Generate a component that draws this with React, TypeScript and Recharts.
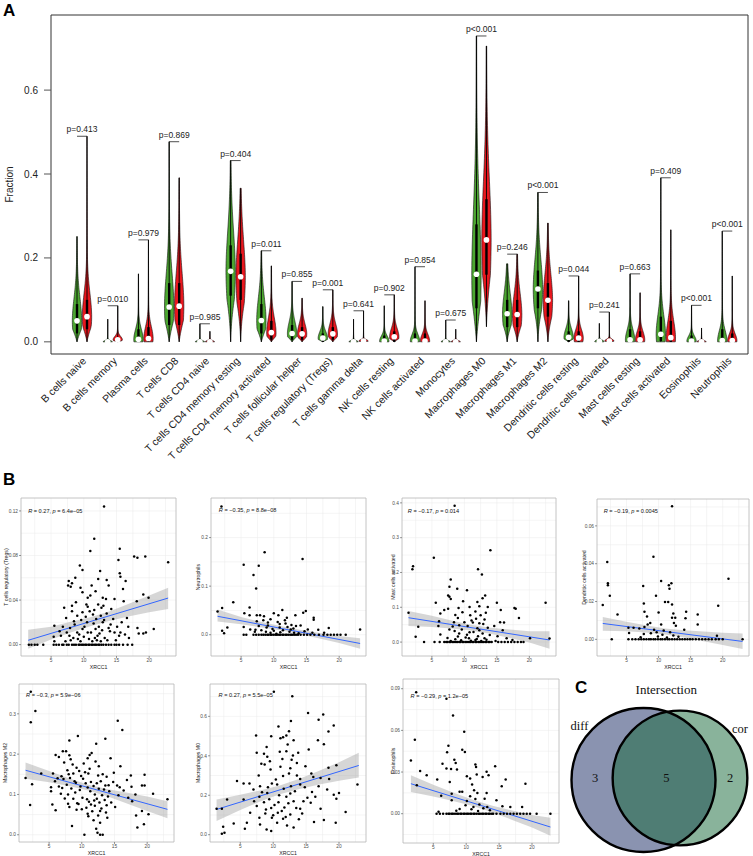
import React from 'react';
import {
  ComposedChart,
  ScatterChart,
  Bar,
  Line,
  Area,
  Scatter,
  XAxis,
  YAxis,
  ZAxis,
  CartesianGrid,
  ReferenceArea,
} from 'recharts';

const SANS = '"Liberation Sans", Arial, Helvetica, sans-serif';
const SERIF = '"Liberation Serif", "Times New Roman", serif';

// ---------- A: immune cell fractions, low (green) vs high (red) ----------
const cellTypes = [
  'B cells naive', 'B cells memory', 'Plasma cells', 'T cells CD8', 'T cells CD4 naive',
  'T cells CD4 memory resting', 'T cells CD4 memory activated', 'T cells follicular helper',
  'T cells regulatory (Tregs)', 'T cells gamma delta', 'NK cells resting', 'NK cells activated',
  'Monocytes', 'Macrophages M0', 'Macrophages M1', 'Macrophages M2', 'Dendritic cells resting',
  'Dendritic cells activated', 'Mast cells resting', 'Mast cells activated', 'Eosinophils', 'Neutrophils',
];
const pLabels = [
  'p=0.413', 'p=0.010', 'p=0.979', 'p=0.869', 'p=0.985', 'p=0.404', 'p=0.011', 'p=0.855',
  'p=0.001', 'p=0.641', 'p=0.902', 'p=0.854', 'p=0.675', 'p<0.001', 'p=0.246', 'p<0.001',
  'p=0.044', 'p=0.241', 'p=0.663', 'p=0.409', 'p<0.001', 'p<0.001',
];
const lowMin = [0, 0, 0, 0, 0, 0, 0, 0, 0, 0, 0, 0, 0, 0, 0, 0, 0, 0, 0, 0, 0, 0];
const lowMax = [0.251, 0.054, 0.162, 0.477, 0.043, 0.432, 0.217, 0.144, 0.084, 0.054, 0.086, 0.179, 0.052, 0.729, 0.186, 0.356, 0.098, 0.044, 0.162, 0.391, 0.087, 0.264];
const lowMed = [0.05, 0, 0.006, 0.083, 0, 0.168, 0.051, 0.02, 0.009, 0, 0.002, 0.002, 0, 0.161, 0.067, 0.126, 0.011, 0.001, 0.005, 0.018, 0.002, 0.003];
const lowQ1 = [0.02, 0, 0, 0.04, 0, 0.11, 0.02, 0.005, 0, 0, 0, 0, 0, 0.08, 0.035, 0.08, 0, 0, 0, 0.002, 0, 0];
const lowQ3 = [0.09, 0.002, 0.03, 0.14, 0.001, 0.23, 0.09, 0.04, 0.02, 0.001, 0.015, 0.02, 0.001, 0.28, 0.1, 0.17, 0.025, 0.004, 0.03, 0.06, 0.015, 0.03];
const highMin = [0, 0, 0, 0, 0, 0, 0, 0, 0, 0, 0, 0, 0, 0.036, 0, 0, 0, 0, 0, 0, 0, 0];
const highMax = [0.49, 0.086, 0.243, 0.391, 0.025, 0.366, 0.181, 0.104, 0.124, 0.074, 0.112, 0.098, 0.03, 0.705, 0.209, 0.283, 0.157, 0.071, 0.117, 0.267, 0.033, 0.157];
const highMed = [0.06, 0.005, 0.008, 0.085, 0, 0.155, 0.022, 0.019, 0.019, 0.002, 0.012, 0.002, 0, 0.243, 0.065, 0.099, 0.009, 0.002, 0.005, 0.01, 0, 0.003];
const highQ1 = [0.03, 0, 0, 0.04, 0, 0.1, 0.005, 0.005, 0.005, 0, 0, 0, 0, 0.16, 0.035, 0.06, 0, 0, 0, 0, 0, 0];
const highQ3 = [0.1, 0.01, 0.035, 0.14, 0.001, 0.21, 0.05, 0.035, 0.035, 0.004, 0.025, 0.02, 0.001, 0.34, 0.1, 0.14, 0.025, 0.005, 0.025, 0.05, 0.002, 0.02];

const violinRows = cellTypes.map((name, i) => ({
  name,
  p: pLabels[i],
  lowMin: lowMin[i], lowMax: lowMax[i], lowMed: lowMed[i], lowQ1: lowQ1[i], lowQ3: lowQ3[i],
  highMin: highMin[i], highMax: highMax[i], highMed: highMed[i], highQ1: highQ1[i], highQ3: highQ3[i],
}));

// ---------- B: XRCC1 correlation scatter plots ----------
const tregsPts = [
  [13.1, 0.124], [11.6, 0.095], [11.0, 0.084], [15.5, 0.086], [17.7, 0.079], [18.2, 0.078], [19.4, 0.079], [22.9, 0.074],
  [15.3, 0.076], [9.4, 0.071], [9.8, 0.067], [12.5, 0.066], [15.5, 0.064], [15.6, 0.061], [8.7, 0.06], [12.2, 0.059],
  [13.5, 0.058], [7.7, 0.057], [16.4, 0.057], [8.2, 0.055], [7.6, 0.053], [8.0, 0.052], [9.5, 0.051], [11.2, 0.053],
  [13.8, 0.053], [16.0, 0.05], [11.8, 0.048], [9.8, 0.047], [11.0, 0.044], [10.6, 0.042], [12.9, 0.042], [13.4, 0.041],
  [14.7, 0.041], [16.1, 0.039], [8.8, 0.038], [10.4, 0.036], [8.2, 0.035], [12.2, 0.036], [10.6, 0.034], [7.0, 0.033],
  [12.7, 0.033], [14.2, 0.032], [19.1, 0.045], [19.9, 0.042], [18.1, 0.039], [8.2, 0.03], [9.8, 0.029], [11.4, 0.027],
  [12.6, 0.026], [13.5, 0.028], [9.0, 0.026], [7.3, 0.024], [11.9, 0.023], [14.5, 0.023], [16.6, 0.024], [8.5, 0.021],
  [10.5, 0.02], [12.9, 0.02], [5.5, 0.017], [6.8, 0.016], [7.9, 0.015], [9.8, 0.014], [11.8, 0.014], [13.8, 0.015],
  [15.1, 0.016], [16.8, 0.016], [18.2, 0.015], [6.3, 0.012], [7.4, 0.011], [9.0, 0.011], [10.6, 0.011], [12.4, 0.01],
  [14.7, 0.011], [15.6, 0.011], [18.4, 0.01], [19.1, 0.01], [19.5, 0.011], [20.7, 0.014], [5.4, 0.007], [6.5, 0.008],
  [8.4, 0.006], [10.0, 0.007], [11.7, 0.006], [13.2, 0.006], [15.4, 0.008], [16.9, 0.006], [5.5, 0.003], [7.2, 0.003],
  [9.5, 0.003], [11.3, 0.003], [12.6, 0.003], [8.6, 0.018], [9.3, 0.009], [10.1, 0.016], [10.8, 0.005], [11.5, 0.019],
  [12.1, 0.008], [12.8, 0.013], [13.6, 0.004], [14.1, 0.018], [9.6, 0.022], [10.9, 0.03], [12.3, 0.016], [13.1, 0.022],
  [11.1, 0.011], [9.1, 0.005], [8.0, 0.004], [14.9, 0.004], [16.3, 0.009], [7.8, 0.008], [10.3, 0.025], [11.6, 0.031],
  [12.0, 0.004], [13.0, 0.035], [14.0, 0.012], [15.8, 0.02],
];
const tregsZeroX = [1.6, 2.0, 2.5, 2.9, 3.8, 5.4, 5.8, 6.2, 6.7, 6.9, 7.4, 7.7, 8.2, 8.5, 8.8, 9.2, 9.4, 9.7, 9.9, 10.2, 10.4, 10.7, 10.9, 11.2, 11.4, 11.7, 11.9, 12.2, 12.4, 12.7, 13.0, 13.4, 13.8, 14.2, 14.7, 15.0, 15.4, 16.0, 16.7, 17.4];
const tregsFit = [[1.5, 0.0039], [22.9, 0.0418]];
const tregsBand = [[1.5, -0.0036, 0.0134], [5, 0.0045, 0.016], [8, 0.011, 0.0205], [11, 0.0165, 0.0245], [14, 0.0215, 0.03], [17, 0.0255, 0.037], [20, 0.029, 0.044], [22.9, 0.032, 0.051]];

const neutroPts = [
  [2.0, 0.264], [8.6, 0.17], [14.4, 0.156], [5.4, 0.144], [7.7, 0.142], [6.9, 0.123], [7.3, 0.095], [3.8, 0.067],
  [2.1, 0.055], [1.4, 0.048], [6.3, 0.056], [11.3, 0.051], [14.9, 0.049], [14.5, 0.045], [5.5, 0.044], [7.4, 0.04],
  [7.9, 0.04], [8.5, 0.038], [6.3, 0.04], [10.0, 0.044], [10.7, 0.04], [12.0, 0.035], [13.3, 0.04], [16.1, 0.035],
  [16.1, 0.031], [8.4, 0.03], [9.5, 0.032], [7.4, 0.028], [10.6, 0.026], [9.1, 0.025], [11.8, 0.023], [14.1, 0.019],
  [13.4, 0.018], [7.7, 0.018], [5.4, 0.016], [2.9, 0.015], [8.9, 0.015], [10.9, 0.015], [12.1, 0.016], [12.6, 0.011],
  [15.2, 0.011], [18.4, 0.014], [23.2, 0.011], [2.1, 0.008], [6.4, 0.011], [7.2, 0.01], [10.0, 0.008], [16.8, 0.01],
  [2.4, 0.003], [9.5, 0.004], [11.0, 0.005], [13.1, 0.004], [17.7, 0.004], [8.8, 0.006], [9.8, 0.012], [10.4, 0.002],
  [11.4, 0.009], [12.4, 0.006], [13.0, 0.013], [13.8, 0.003], [9.1, 0.019], [10.9, 0.022], [12.7, 0.02], [11.7, 0.03],
  [8.1, 0.009], [14.7, 0.007], [15.9, 0.004], [7.1, 0.006],
];
const neutroZeroX = [5.4, 5.8, 6.9, 7.3, 7.7, 8.1, 8.4, 8.7, 9.0, 9.2, 9.5, 9.7, 10.0, 10.3, 10.5, 10.8, 11.0, 11.3, 11.5, 11.8, 12.0, 12.3, 12.6, 12.8, 13.1, 13.4, 13.7, 14.1, 14.6, 15.1, 15.6, 16.2, 16.9, 17.6, 18.2, 18.7, 19.2, 19.7, 20.2, 21.0];
const neutroFit = [[1.4, 0.038], [23.2, -0.018]];
const neutroBand = [[1.4, 0.027, 0.052], [5, 0.0215, 0.0365], [8, 0.0155, 0.0265], [11, 0.009, 0.0178], [14, 0.001, 0.0105], [17, -0.008, 0.0035], [20, -0.017, -0.0025], [23.2, -0.029, -0.007]];

const mastPts = [
  [8.5, 0.392], [14.0, 0.264], [5.3, 0.242], [2.1, 0.218], [2.0, 0.209], [12.1, 0.209], [12.7, 0.194], [7.9, 0.18],
  [7.7, 0.159], [8.9, 0.153], [10.4, 0.149], [7.5, 0.134], [7.7, 0.13], [7.9, 0.124], [13.2, 0.134], [12.8, 0.126],
  [9.8, 0.117], [5.6, 0.113], [22.5, 0.113], [15.0, 0.113], [12.0, 0.115], [12.3, 0.103], [10.8, 0.101], [13.6, 0.101],
  [9.1, 0.098], [7.5, 0.096], [17.7, 0.098], [17.9, 0.096], [15.6, 0.092], [6.9, 0.092], [9.7, 0.086], [11.7, 0.088],
  [13.3, 0.084], [1.4, 0.084], [6.3, 0.082], [8.6, 0.078], [10.9, 0.077], [12.5, 0.077], [18.4, 0.069], [9.0, 0.069],
  [11.8, 0.067], [13.1, 0.065], [6.1, 0.06], [8.4, 0.057], [10.0, 0.057], [11.3, 0.056], [15.5, 0.057], [16.1, 0.056],
  [12.3, 0.054], [14.6, 0.046], [6.0, 0.046], [2.9, 0.044], [9.2, 0.048], [10.5, 0.046], [13.6, 0.041], [7.7, 0.036],
  [9.6, 0.036], [12.3, 0.034], [15.9, 0.034], [8.5, 0.032], [11.4, 0.029], [6.3, 0.022], [9.2, 0.025], [10.4, 0.021],
  [12.8, 0.025], [15.1, 0.017], [2.5, 0.015], [7.4, 0.012], [10.7, 0.011], [12.1, 0.017], [13.1, 0.011], [16.5, 0.011],
  [8.6, 0.008], [11.7, 0.006], [17.4, 0.006], [20.1, 0.011], [23.1, 0.01], [9.5, 0.005], [10.2, 0.013], [11.0, 0.004],
  [11.9, 0.009], [12.6, 0.003], [13.4, 0.007], [9.0, 0.016], [10.8, 0.028], [12.0, 0.04], [8.2, 0.045], [11.1, 0.062],
  [13.9, 0.02], [14.8, 0.003], [7.9, 0.003], [12.9, 0.052],
];
const mastZeroX = [3.8, 5.4, 6.2, 6.9, 7.2, 7.4, 7.7, 7.9, 8.2, 8.4, 8.7, 8.9, 9.2, 9.4, 9.7, 9.9, 10.2, 10.4, 10.7, 10.9, 11.2, 11.4, 11.7, 11.9, 12.2, 12.4, 12.7, 12.9, 13.2, 13.4, 13.7, 13.9, 14.2, 15.2, 15.7, 16.2, 16.7, 17.2, 17.7, 18.2, 18.7, 19.1];
const mastFit = [[1.4, 0.07], [23.1, 0.006]];
const mastBand = [[1.4, 0.046, 0.089], [5, 0.043, 0.0755], [8, 0.039, 0.062], [11, 0.0335, 0.05], [14, 0.024, 0.0415], [17, 0.012, 0.036], [20, -0.001, 0.031], [23.1, -0.019, 0.031]];

const dcPts = [
  [12.1, 0.0704], [9.2, 0.0437], [2.0, 0.0409], [20.9, 0.0321], [2.1, 0.0296], [2.1, 0.0286], [7.6, 0.0282], [10.4, 0.0309],
  [12.0, 0.0296], [11.6, 0.0286], [11.7, 0.0268], [2.4, 0.023], [9.6, 0.023], [11.0, 0.0198], [11.5, 0.0198], [12.1, 0.0184],
  [7.7, 0.0189], [1.3, 0.0181], [19.3, 0.0177], [7.8, 0.0146], [10.0, 0.0142], [14.3, 0.0146], [12.3, 0.0137], [3.6, 0.0132],
  [16.1, 0.0132], [8.2, 0.0121], [12.1, 0.0114], [12.6, 0.0114], [14.2, 0.0111], [8.7, 0.0086], [8.3, 0.0079], [12.4, 0.0086],
  [16.1, 0.0079], [10.4, 0.0079], [12.7, 0.0072], [5.3, 0.0061], [6.1, 0.0061], [7.0, 0.0058], [7.8, 0.0065], [9.3, 0.0051],
  [9.7, 0.0037], [10.8, 0.0047], [11.8, 0.0037], [14.0, 0.0051], [5.4, 0.0033], [7.7, 0.0028], [19.1, 0.0019], [7.2, 0.0011],
  [9.9, 0.0015], [10.6, 0.0025], [11.3, 0.001], [12.3, 0.002], [13.1, 0.0014], [8.8, 0.0032],
];
const dcZeroX = [2.7, 5.3, 5.9, 6.4, 6.9, 7.3, 7.7, 8.1, 8.5, 8.8, 9.2, 9.5, 9.9, 10.3, 10.6, 11.0, 11.4, 11.7, 12.1, 12.5, 12.9, 13.3, 13.7, 14.1, 14.5, 14.9, 15.3, 15.8, 16.3, 16.8, 17.3, 17.8, 18.3, 18.9, 19.4, 20.0, 23.1];
const dcFit = [[1.3, 0.0084], [23.1, -0.0011]];
const dcBand = [[1.3, 0.0046, 0.0118], [5, 0.0043, 0.0093], [8, 0.0036, 0.0074], [11, 0.0026, 0.0058], [14, 0.001, 0.0048], [17, -0.001, 0.0042], [20, -0.003, 0.0035], [23.1, -0.0051, 0.0031]];

const m2Pts = [
  [2.2, 0.355], [2.9, 0.307], [2.2, 0.279], [15.5, 0.283], [16.2, 0.26], [13.6, 0.238], [9.4, 0.245], [8.1, 0.234],
  [12.2, 0.226], [7.1, 0.207], [7.6, 0.207], [11.5, 0.203], [6.0, 0.198], [8.1, 0.197], [11.2, 0.198], [6.5, 0.193],
  [10.9, 0.19], [14.4, 0.19], [8.3, 0.187], [12.1, 0.182], [7.3, 0.179], [10.3, 0.177], [8.6, 0.174], [12.6, 0.17],
  [15.9, 0.17], [9.2, 0.166], [11.2, 0.164], [7.8, 0.16], [9.6, 0.158], [8.7, 0.152], [5.6, 0.152], [3.8, 0.152],
  [11.0, 0.152], [12.5, 0.147], [17.5, 0.147], [19.6, 0.149], [1.4, 0.141], [6.9, 0.145], [8.2, 0.141], [10.2, 0.139],
  [13.8, 0.144], [5.9, 0.133], [9.1, 0.129], [11.4, 0.131], [14.8, 0.131], [7.7, 0.124], [2.4, 0.125], [13.6, 0.122],
  [15.4, 0.122], [17.6, 0.119], [19.2, 0.122], [19.6, 0.122], [5.3, 0.118], [10.9, 0.117], [12.6, 0.114], [5.3, 0.108],
  [9.7, 0.111], [14.2, 0.108], [16.4, 0.11], [20.9, 0.102], [6.8, 0.102], [7.9, 0.1], [12.0, 0.1], [13.1, 0.098],
  [15.6, 0.098], [18.2, 0.1], [8.7, 0.089], [10.8, 0.088], [12.3, 0.089], [17.7, 0.083], [23.1, 0.088], [5.5, 0.075],
  [9.3, 0.078], [11.4, 0.075], [13.8, 0.073], [2.1, 0.074], [8.1, 0.069], [15.1, 0.069], [6.0, 0.061], [10.0, 0.063],
  [12.8, 0.059], [19.2, 0.059], [18.3, 0.048], [20.2, 0.051], [11.0, 0.046], [13.9, 0.042], [11.8, 0.036], [12.8, 0.03],
  [8.5, 0.022], [18.5, 0.018], [19.5, 0.026], [12.2, 0.015], [12.4, 0.005], [10.4, 0], [12.8, 0], [13.2, 0],
  [7.2, 0.138], [8.9, 0.133], [9.9, 0.146], [10.6, 0.128], [11.8, 0.121], [12.9, 0.133], [13.4, 0.112], [14.0, 0.095],
  [9.0, 0.105], [10.1, 0.092], [11.1, 0.082], [12.0, 0.072], [12.7, 0.08], [13.5, 0.086], [8.4, 0.115], [7.4, 0.09],
  [6.5, 0.12], [9.5, 0.076], [10.7, 0.067], [11.6, 0.058], [13.0, 0.065], [14.5, 0.08], [15.8, 0.118], [16.9, 0.136],
  [17.1, 0.092], [6.3, 0.14], [7.0, 0.116], [9.8, 0.12], [11.3, 0.108], [12.3, 0.128], [13.2, 0.15], [14.9, 0.154],
  [10.5, 0.155], [8.0, 0.15], [7.9, 0.077], [9.2, 0.062], [10.9, 0.052], [12.5, 0.048], [13.7, 0.055], [11.9, 0.085],
  [14.1, 0.123],
];
const m2Fit = [[1.4, 0.16], [23.1, 0.063]];
const m2Band = [[1.4, 0.139, 0.179], [5, 0.13, 0.158], [8, 0.121, 0.14], [11, 0.11, 0.124], [14, 0.095, 0.113], [17, 0.077, 0.104], [20, 0.059, 0.095], [23.1, 0.041, 0.083]];

const m0Pts = [
  [10.1, 0.725], [12.9, 0.702], [15.3, 0.617], [17.6, 0.61], [16.9, 0.583], [12.7, 0.577], [19.2, 0.553], [10.8, 0.548],
  [18.4, 0.523], [12.4, 0.524], [12.0, 0.503], [7.4, 0.503], [9.7, 0.499], [11.5, 0.494], [13.1, 0.479], [11.1, 0.489],
  [16.8, 0.479], [12.2, 0.457], [17.7, 0.459], [9.0, 0.445], [15.4, 0.432], [12.0, 0.423], [8.6, 0.411], [13.8, 0.415],
  [7.5, 0.415], [13.0, 0.401], [9.1, 0.395], [11.4, 0.384], [9.5, 0.373], [13.6, 0.364], [8.7, 0.356], [19.6, 0.352],
  [14.9, 0.347], [11.1, 0.344], [12.6, 0.337], [18.4, 0.34], [9.6, 0.33], [7.8, 0.3], [12.4, 0.31], [15.8, 0.31],
  [11.5, 0.297], [13.6, 0.3], [16.1, 0.293], [4.5, 0.272], [5.5, 0.26], [6.4, 0.26], [14.1, 0.283], [17.2, 0.288],
  [18.5, 0.283], [22.8, 0.255], [9.8, 0.26], [10.6, 0.255], [8.0, 0.246], [14.1, 0.255], [12.7, 0.246], [16.9, 0.246],
  [7.0, 0.229], [11.6, 0.233], [18.2, 0.229], [15.9, 0.216], [9.1, 0.212], [12.6, 0.209], [20.0, 0.212], [3.0, 0.179],
  [5.5, 0.179], [7.9, 0.192], [12.0, 0.192], [15.2, 0.187], [16.4, 0.192], [19.2, 0.202], [19.6, 0.182], [7.1, 0.17],
  [8.6, 0.165], [10.8, 0.165], [13.1, 0.17], [15.7, 0.162], [1.4, 0.132], [2.2, 0.132], [7.5, 0.145], [9.7, 0.135],
  [11.7, 0.138], [14.1, 0.132], [17.2, 0.132], [21.0, 0.115], [6.5, 0.111], [8.8, 0.108], [10.7, 0.111], [12.6, 0.103],
  [14.4, 0.108], [7.9, 0.086], [9.8, 0.086], [11.5, 0.081], [13.9, 0.078], [16.2, 0.064], [17.7, 0.074], [19.5, 0.061],
  [4.0, 0.057], [6.0, 0.061], [8.0, 0.052], [10.6, 0.061], [12.1, 0.047], [13.1, 0.037], [5.7, 0.03], [9.0, 0.027],
  [9.7, 0.019], [2.4, 0.04], [2.2, 0.005], [2.6, 0.01], [8.3, 0.215], [9.4, 0.18], [10.2, 0.15], [10.9, 0.2],
  [11.3, 0.12], [12.3, 0.16], [13.5, 0.135], [14.6, 0.17], [8.9, 0.128], [10.0, 0.098], [11.9, 0.09], [13.3, 0.22],
  [10.4, 0.28], [9.2, 0.24], [14.8, 0.24], [11.0, 0.42], [12.8, 0.38], [8.2, 0.36],
];
const m0Fit = [[1.4, 0.128], [23.0, 0.351]];
const m0Band = [[1.4, 0.069, 0.178], [5, 0.125, 0.203], [8, 0.168, 0.224], [11, 0.205, 0.249], [14, 0.232, 0.284], [17, 0.254, 0.324], [20, 0.273, 0.367], [23, 0.29, 0.415]];

const eosPts = [
  [2.4, 0.0874], [7.0, 0.0828], [8.0, 0.0708], [9.7, 0.059], [2.2, 0.0533], [7.3, 0.049], [9.4, 0.0461], [7.1, 0.0442],
  [9.8, 0.0444], [1.6, 0.0384], [8.2, 0.0389], [6.4, 0.036], [8.4, 0.0365], [11.4, 0.0355], [14.4, 0.0341], [11.5, 0.0336],
  [3.0, 0.0307], [7.0, 0.0326], [7.7, 0.0322], [8.6, 0.0319], [13.1, 0.0302], [11.6, 0.0283], [4.0, 0.0276], [10.1, 0.0269],
  [13.4, 0.0276], [12.5, 0.0264], [5.6, 0.0247], [10.6, 0.0254], [16.0, 0.0247], [7.5, 0.0228], [19.0, 0.0216], [2.5, 0.0204],
  [10.9, 0.0211], [15.4, 0.0197], [9.0, 0.0158], [9.4, 0.0158], [11.2, 0.0168], [7.8, 0.0144], [11.7, 0.0149], [13.1, 0.0149],
  [6.2, 0.013], [10.6, 0.0125], [12.8, 0.0108], [7.8, 0.0096], [10.1, 0.0091], [11.4, 0.0106], [14.6, 0.0096], [15.5, 0.0053],
  [9.0, 0.0034], [12.0, 0.0067], [13.2, 0.0048], [16.7, 0.0048], [18.5, 0.0048], [5.8, 0.0014], [9.9, 0.006], [10.8, 0.0032],
  [11.8, 0.002], [12.6, 0.004], [8.5, 0.0022], [11.1, 0.0049], [13.6, 0.0025],
];
const eosZeroX = [5.5, 6.0, 6.5, 7.0, 7.3, 7.5, 7.8, 8.0, 8.3, 8.6, 8.8, 9.1, 9.3, 9.6, 9.8, 10.1, 10.3, 10.6, 10.8, 11.1, 11.3, 11.6, 11.9, 12.1, 12.4, 12.6, 12.9, 13.1, 13.4, 13.6, 13.9, 14.1, 14.6, 15.2, 15.7, 16.2, 16.7, 17.2, 17.7, 18.2, 18.7, 19.2, 19.7, 20.7, 22.8];
const eosFit = [[1.6, 0.0216], [22.8, -0.0096]];
const eosBand = [[1.6, 0.0156, 0.0276], [5, 0.0124, 0.0208], [8, 0.0092, 0.0152], [11, 0.0055, 0.0101], [14, 0.0008, 0.0058], [17, -0.0045, 0.0023], [20, -0.01, -0.001], [22.8, -0.0158, -0.0029]];

const corTitles = ['T cells regulatory (Tregs)', 'Neutrophils', 'Mast cells activated', 'Dendritic cells activated', 'Macrophages M2', 'Macrophages M0', 'Eosinophils'];
const corR = ['0.27', '\u22120.35', '\u22120.17', '\u22120.19', '\u22120.3', '0.27', '\u22120.29'];
const corP = ['6.4e\u221205', '8.8e\u221208', '0.014', '0.0045', '5.9e\u221206', '5.5e\u221205', '1.2e\u221205'];
const corLabelAt = [[1.5, 0.12], [1.6, 0.256], [1.3, 0.376], [1.44, 0.0677], [1.48, 0.346], [1.7, 0.707], [1.55, 0.0847]];
const xrccTicks = [5, 10, 15, 20];

// ---------- C: Venn ----------
const vennNames = ['diff', 'cor'];
const vennSizes = [8, 7];
const vennCenters = [[8.05, 7.6], [11.7, 7.8]];
const vennCounts = ['3', '5', '2'];
const vennCountX = [3.2, 10.33, 16.7];

// layout of the seven scatter panels (plot frame in page pixels)
const corLayout = [
  { box: [20.7, 498.3, 154.8, 158.4], yDomain: [-0.0102, 0.1316], yTicks: [0, 0.04, 0.08, 0.12], digits: 2, titleDx: -15, pts: tregsPts, zeros: tregsZeroX, fit: tregsFit, band: tregsBand },
  { box: [210.7, 498.3, 154.8, 158.4], yDomain: [-0.0438, 0.2815], yTicks: [0, 0.1, 0.2], digits: 1, titleDx: -13, pts: neutroPts, zeros: neutroZeroX, fit: neutroFit, band: neutroBand },
  { box: [402.4, 498.3, 154.3, 158.4], yDomain: [-0.04, 0.414], yTicks: [0, 0.1, 0.2, 0.3, 0.4], digits: 1, titleDx: -9, pts: mastPts, zeros: mastZeroX, fit: mastFit, band: mastBand },
  { box: [596.7, 499.3, 152.3, 157.4], yDomain: [-0.0088, 0.0742], yTicks: [0, 0.02, 0.04, 0.06], digits: 2, titleDx: -13, pts: dcPts, zeros: dcZeroX, fit: dcFit, band: dcBand },
  { box: [19, 684.3, 154.8, 158.4], yDomain: [-0.018, 0.374], yTicks: [0, 0.1, 0.2, 0.3], digits: 1, titleDx: -14, pts: m2Pts, zeros: [], fit: m2Fit, band: m2Band },
  { box: [209.7, 684.3, 156, 158.4], yDomain: [-0.037, 0.764], yTicks: [0, 0.2, 0.4, 0.6], digits: 1, titleDx: -12, pts: m0Pts, zeros: [], fit: m0Fit, band: m0Band },
  { box: [403, 678.7, 156, 164], yDomain: [-0.0211, 0.097], yTicks: [0, 0.03, 0.06, 0.09], digits: 2, titleDx: -10, pts: eosPts, zeros: eosZeroX, fit: eosFit, band: eosBand },
];

function makeViolin(grp: 'low' | 'high', fill: string, withBracket: boolean) {
  return (props: any) => {
    const { x, y, width, height, payload } = props;
    const lo = payload[grp + 'Min'];
    const hi = payload[grp + 'Max'];
    const med = payload[grp + 'Med'];
    const q1 = payload[grp + 'Q1'];
    const q3 = payload[grp + 'Q3'];
    const top = height < 0 ? y + height : y;
    const k = Math.abs(height) / (hi - lo);
    const py = (v: number) => top + (hi - v) * k;
    const cx = x + width / 2;
    const half = width / 2 - 0.3;
    const s = Math.max((q3 - q1) * 0.8, 0.003);
    const flat = med - lo < s * 0.5;
    const right: string[] = [];
    const left: string[] = [];
    const n = 60;
    for (let j = 0; j <= n; j++) {
      const v = lo + ((hi - lo) * j) / n;
      const d = v - med;
      let f = 0.85 * Math.exp(-0.5 * (d / s) ** 2) + 0.15 * Math.exp(-Math.abs(d) / (3 * s));
      if (!flat && v < med) f *= Math.min(1, (v - lo) / (0.6 * (med - lo)));
      const w = half * f;
      right.push(`${(cx + w).toFixed(2)},${py(v).toFixed(2)}`);
      left.unshift(`${(cx - w).toFixed(2)},${py(v).toFixed(2)}`);
    }
    let bracket = null;
    if (withBracket) {
      const yT = py(Math.max(payload.lowMax, payload.highMax));
      const gx = cx - width;
      bracket = (
        <g>
          <line x1={gx} x2={cx} y1={yT} y2={yT} stroke="#222" strokeWidth={0.8} />
          <text x={(gx + cx) / 2} y={yT - 4} textAnchor="middle" fontSize={8.5} fill="#222">
            {payload.p}
          </text>
        </g>
      );
    }
    return (
      <g>
        <polygon points={[...right, ...left].join(' ')} fill={fill} stroke="#111" strokeWidth={0.6} />
        <line x1={cx} x2={cx} y1={py(hi)} y2={py(lo)} stroke="#000" strokeWidth={0.9} />
        <rect x={cx - 1.2} y={py(q3)} width={2.4} height={Math.max(py(q1) - py(q3), 0.5)} fill="#000" />
        <circle cx={cx} cy={py(med)} r={2.8} fill="#fff" />
        {bracket}
      </g>
    );
  };
}

const lowViolin = makeViolin('low', '#4ca631', false);
const highViolin = makeViolin('high', '#e8171e', true);

const CellTick = (props: any) => {
  const { x, y, payload } = props;
  const ax = x + 2;
  const ay = y + 5;
  return (
    <text x={ax} y={ay} transform={`rotate(-45 ${ax} ${ay})`} textAnchor="end" dy="0.35em" fontSize={10.5} fill="#1a1a1a">
      {payload.value}
    </text>
  );
};

function ViolinPanel() {
  return (
    <ComposedChart width={753} height={470} data={violinRows} margin={{ top: 15, right: 5, bottom: 0, left: 0 }} barGap={0}>
      <XAxis dataKey="name" interval={0} height={116} padding={{ left: 16, right: 5 }} axisLine={false} tickLine={false} tickSize={0} tickMargin={0} tick={<CellTick />} />
      <XAxis xAxisId="frame" type="number" domain={[0, 1]} hide />
      <YAxis
        domain={[-0.029, 0.779]}
        ticks={[0, 0.2, 0.4, 0.6]}
        allowDataOverflow
        width={51}
        axisLine={false}
        tickSize={7}
        tickMargin={6}
        tickLine={{ stroke: '#555' }}
        tick={{ fontSize: 10, fill: '#222' }}
        tickFormatter={(v: number) => v.toFixed(1)}
        label={{
          content: (p: any) => {
            const vb = p.viewBox;
            const lx = vb.x + 9;
            const ly = vb.y + vb.height / 2;
            return (
              <text x={lx} y={ly} transform={`rotate(-90 ${lx} ${ly})`} textAnchor="middle" dominantBaseline="central" fontSize={10} fill="#222">
                Fraction
              </text>
            );
          },
        }}
      />
      <ReferenceArea xAxisId="frame" y1={-0.029} y2={0.779} ifOverflow="visible" fill="none" fillOpacity={0} stroke="#333" strokeWidth={1} />
      <Bar dataKey={(d: any) => [d.lowMin, d.lowMax]} barSize={10} shape={lowViolin} isAnimationActive={false} />
      <Bar dataKey={(d: any) => [d.highMin, d.highMax]} barSize={10} shape={highViolin} isAnimationActive={false} />
    </ComposedChart>
  );
}

const pointShape = (p: any) => <circle cx={p.cx} cy={p.cy} r={1.25} fill="#000" />;

function CorrPanel({ idx }: { idx: number }) {
  const cfg = corLayout[idx];
  const [bl, bt, bw, bh] = cfg.box;
  const yAxisW = 24;
  const mt = 3;
  const mr = 3;
  const xAxisH = 14;
  const dots = [
    ...cfg.pts.map(([x, y]) => ({ x, y })),
    ...cfg.zeros.map((x) => ({ x, y: 0 })),
  ];
  const fit = cfg.fit.map(([x, y]) => ({ x, y }));
  const band = cfg.band.map(([x, lo, hi]) => ({ x, band: [lo, hi] }));
  const t = cfg.yTicks;
  const step = t[1] - t[0];
  const yGrid = [...t, ...t.map((v) => v + step / 2), t[0] - step / 2].filter((v) => v > cfg.yDomain[0] && v < cfg.yDomain[1]);
  const xGrid = [2.5, 5, 7.5, 10, 12.5, 15, 17.5, 20, 22.5];
  const stat = [{ x: corLabelAt[idx][0], y: corLabelAt[idx][1] }];
  const statShape = (p: any) => (
    <text x={p.cx} y={p.cy} dominantBaseline="central" fontSize={5.6} fill="#111">
      <tspan fontStyle="italic">R</tspan>
      {` = ${corR[idx]}, `}
      <tspan fontStyle="italic">p</tspan>
      {` = ${corP[idx]}`}
    </text>
  );
  return (
    <div style={{ position: 'absolute', left: bl - yAxisW, top: bt - mt }}>
      <ComposedChart width={Math.round(yAxisW + bw + mr)} height={Math.round(mt + bh + xAxisH)} margin={{ top: mt, right: mr, bottom: 0, left: 0 }}>
        <CartesianGrid verticalValues={xGrid} horizontalValues={yGrid} stroke="#ebebeb" strokeWidth={0.5} />
        <XAxis
          type="number"
          dataKey="x"
          domain={[0.4, 24.1]}
          ticks={xrccTicks}
          allowDataOverflow
          interval={0}
          height={xAxisH}
          axisLine={false}
          tickSize={2}
          tickMargin={1}
          tickLine={{ stroke: '#333', strokeWidth: 0.5 }}
          tick={{ fontSize: 4.8, fill: '#4d4d4d' }}
          label={{
            content: (p: any) => {
              const vb = p.viewBox;
              return (
                <text x={vb.x + vb.width / 2} y={vb.y + vb.height - 1} textAnchor="middle" fontSize={5.2} fill="#1a1a1a">
                  XRCC1
                </text>
              );
            },
          }}
        />
        <YAxis
          type="number"
          dataKey="y"
          domain={cfg.yDomain}
          ticks={cfg.yTicks}
          allowDataOverflow
          interval={0}
          width={yAxisW}
          axisLine={false}
          tickSize={2}
          tickMargin={1}
          tickLine={{ stroke: '#333', strokeWidth: 0.5 }}
          tick={{ fontSize: 4.8, fill: '#4d4d4d' }}
          tickFormatter={(v: number) => v.toFixed(cfg.digits)}
          label={{
            content: (p: any) => {
              const vb = p.viewBox;
              const lx = vb.x + vb.width + cfg.titleDx;
              const ly = vb.y + vb.height / 2;
              return (
                <text x={lx} y={ly} transform={`rotate(-90 ${lx} ${ly})`} textAnchor="middle" dominantBaseline="central" fontSize={5.2} fill="#1a1a1a">
                  {corTitles[idx]}
                </text>
              );
            },
          }}
        />
        <Scatter data={dots} dataKey="y" shape={pointShape} isAnimationActive={false} />
        <Area data={band} dataKey="band" stroke="none" fill="#999999" fillOpacity={0.4} isAnimationActive={false} />
        <Line data={fit} dataKey="y" stroke="#3366ff" strokeWidth={1} dot={false} isAnimationActive={false} />
        <Scatter data={stat} dataKey="y" shape={statShape} isAnimationActive={false} />
        <ReferenceArea y1={cfg.yDomain[0]} y2={cfg.yDomain[1]} ifOverflow="visible" fill="none" fillOpacity={0} stroke="#b5b5b5" strokeWidth={0.8} />
      </ComposedChart>
    </div>
  );
}

function VennPanel() {
  const sets = vennNames.map((name, i) => ({ name, x: vennCenters[i][0], y: vennCenters[i][1], size: vennSizes[i] }));
  const labels = [
    { x: 10.33, y: 16.7, text: 'Intersection' },
    { x: 1.65, y: 13.0, text: vennNames[0] },
    { x: 17.7, y: 12.7, text: vennNames[1] },
    ...vennCounts.map((c, i) => ({ x: vennCountX[i], y: 7.83, text: c })),
  ];
  const fillShape = (p: any) => (
    <circle cx={p.cx} cy={p.cy} r={p.width / 2} fill={p.payload.name === 'diff' ? 'rgba(21,39,97,0.5)' : 'rgba(19,104,55,0.5)'} />
  );
  const ringShape = (p: any) => <circle cx={p.cx} cy={p.cy} r={p.width / 2} fill="none" stroke="#000" strokeWidth={2.4} />;
  const textShape = (p: any) => (
    <text x={p.cx} y={p.cy} textAnchor="middle" dominantBaseline="central" fontFamily={SERIF} fontSize={p.payload.text === 'Intersection' ? 13 : 12.5} fill="#111">
      {p.payload.text}
    </text>
  );
  return (
    <div style={{ position: 'absolute', left: 563, top: 680 }}>
      <ScatterChart width={190} height={176} margin={{ top: 0, right: 0, bottom: 0, left: 0 }}>
        <XAxis type="number" dataKey="x" domain={[0, 19]} hide />
        <YAxis type="number" dataKey="y" domain={[0, 17.6]} hide />
        <ZAxis type="number" dataKey="size" domain={[0, 8]} range={[0, Math.PI * 72 * 72]} />
        <Scatter data={sets} shape={fillShape} isAnimationActive={false} />
        <Scatter data={sets} shape={ringShape} isAnimationActive={false} />
        <Scatter data={labels} shape={textShape} isAnimationActive={false} />
      </ScatterChart>
    </div>
  );
}

const panelTag = (text: string, left: number, top: number) => (
  <div style={{ position: 'absolute', left, top, fontSize: 17, lineHeight: '16px', fontWeight: 700, fontFamily: SANS, color: '#000' }}>
    {text}
  </div>
);

export default function App() {
  return (
    <div style={{ position: 'absolute', left: 0, top: 0, width: 753, height: 856, background: '#fff', fontFamily: SANS, overflow: 'hidden' }}>
      <div style={{ position: 'absolute', left: 0, top: 0 }}>
        <ViolinPanel />
      </div>
      {corLayout.map((_, i) => (
        <CorrPanel key={i} idx={i} />
      ))}
      <VennPanel />
      {panelTag('A', 3, 3)}
      {panelTag('B', 3, 472)}
      {panelTag('C', 575, 680)}
    </div>
  );
}
